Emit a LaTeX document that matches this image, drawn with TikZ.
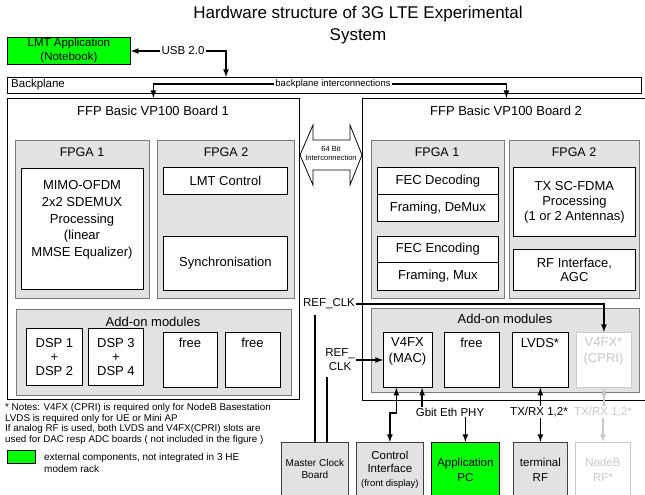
\documentclass[tikz,border=0pt]{standalone}
\usepackage{fontspec}
\setmainfont{Liberation Sans}
\usetikzlibrary{positioning}
\definecolor{panel}{HTML}{E2E2E2}
\definecolor{panelline}{HTML}{7A7A7A}
\definecolor{extgreen}{HTML}{00FF00}
\definecolor{faded}{HTML}{C8C8C8}
\newcommand{\fsz}[2]{\fontsize{#1}{#2}\selectfont}
\tikzset{
  sz/.style 2 args={minimum width=#1pt, minimum height=#2pt, anchor=north west},
  box/.style={draw, fill=white, line width=0.8pt, inner sep=0pt, align=center, font=\fsz{13}{16}},
  panel/.style={draw=panelline, fill=panel, line width=1.2pt, inner sep=0pt, anchor=north west},
  board/.style={draw, line width=0.8pt, inner sep=0pt, anchor=north west},
  lbl/.style={inner sep=1pt, align=center, font=\fsz{11.5}{14}},
  unit/.style={box, fill=panel, draw=black!75, font=\fsz{11.5}{15}},
  ext/.style={box, fill=extgreen, font=\fsz{11.5}{14}},
  off/.style={draw=faded, text=faded},
  link/.style={line width=1.6pt},
  arr/.style={link, ->},
  dblarr/.style={link, <->},
}
\begin{document}
\begin{tikzpicture}[x=1pt, y=-1pt, >=latex]
  \useasboundingbox (0,0) rectangle (645,495);
  \node[lbl, font=\fsz{17}{22}] (title) at (358,25) {Hardware structure of 3G LTE Experimental\\System};
  % external notebook and backplane
  \node[ext, sz={123}{27}] (lmt) at (7,37) {LMT Application\\(Notebook)};
  \node[lbl] (usb) at (183,51) {USB 2.0};
  \node[board, sz={634}{16}] (bp) at (7,77) {};
  \node[lbl, anchor=west] (bptxt) at (10,85) {Backplane};
  \node[lbl, font=\fsz{9.5}{11}] (bpi) at (333,84) {backplane interconnections};
  \coordinate (bpusb) at (226,77);
  \draw[arr] (usb.west) -- (usb.west -| lmt.east);
  \draw[arr] (usb.east) -| (bpusb);
  % the two boards
  \node[board, sz={292}{301}] (b1) at (7,98) {};
  \node[board, sz={288}{302}] (b2) at (362,98) {};
  \draw[arr] (bpi.west) -| (b1.north);
  \draw[arr] (bpi.east) -| (b2.north);
  \node[lbl, font=\fsz{13}{16}] (b1t) at (153,111) {FFP Basic VP100 Board 1};
  \node[lbl, font=\fsz{13}{16}] (b2t) at (506,111) {FFP Basic VP100 Board 2};
  \draw[line width=0.8pt, fill=white] (300,155) -- (313,125) -- (313,140) -- (350,140) -- (350,125)
    -- (362,155) -- (350,185) -- (350,170) -- (313,170) -- (313,185) -- cycle;
  \node[lbl, font=\fsz{7.5}{9}] (ic) at (331,153) {64 Bit\\Interconnection};
  % board 1
  \node[panel, sz={134}{158}] (fpgaA) at (15,140) {};
  \node[lbl, font=\fsz{12.5}{15}] (fpgaAt) at (82,152) {FPGA 1};
  \node[box, sz={122}{121}] (mimo) at (21,168) {};
  \node[lbl, font=\fsz{13}{16.7}] (mimot) at (82,220) {MIMO-OFDM\\2x2 SDEMUX\\Processing\\(linear\\MMSE Equalizer)};
  \node[panel, sz={137}{158}] (fpgaB) at (157,140) {};
  \node[lbl, font=\fsz{12.5}{15}] (fpgaBt) at (226,152) {FPGA 2};
  \node[box, sz={124}{27}] (lmtc) at (163,167) {LMT Control};
  \node[box, sz={124}{54}] (sync) at (163,236) {Synchronisation};
  \node[panel, sz={275}{86}] (addA) at (16,309) {};
  \node[lbl, font=\fsz{13}{16}] (addAt) at (153,322) {Add-on modules};
  \node[box, sz={56}{57}, font=\fsz{13}{14}] (dspA) at (26,328) {DSP 1\\+\\DSP 2};
  \node[box, sz={55}{57}, font=\fsz{13}{14}] (dspB) at (88,328) {DSP 3\\+\\DSP 4};
  \node[box, sz={54}{55}] (freeA) at (163,332) {};
  \node[lbl, font=\fsz{13}{16}] (freeAt) at (190,343) {free};
  \node[box, sz={55}{55}] (freeB) at (225,332) {};
  \node[lbl, font=\fsz{13}{16}] (freeBt) at (252.5,343) {free};
  % board 2
  \node[panel, sz={133}{158}] (fpgaC) at (371,140) {};
  \node[lbl, font=\fsz{12.5}{15}] (fpgaCt) at (437,152) {FPGA 1};
  \node[box, sz={121}{27}] (fecd) at (377,167) {FEC Decoding};
  \node[box, sz={121}{27}] (frmd) at (377,194) {Framing, DeMux};
  \node[box, sz={121}{26}] (fece) at (377,236) {FEC Encoding};
  \node[box, sz={121}{28}] (frme) at (377,262) {Framing, Mux};
  \node[panel, sz={130}{158}] (fpgaD) at (509,140) {};
  \node[lbl, font=\fsz{12.5}{15}] (fpgaDt) at (574,152) {FPGA 2};
  \node[box, sz={122}{69}, font=\fsz{13}{15}] (txsc) at (513,167) {TX SC-FDMA\\Processing\\(1 or 2 Antennas)};
  \node[box, sz={122}{41}, font=\fsz{13}{14}] (rfif) at (513,249) {RF Interface,\\AGC};
  \node[panel, sz={268}{84}] (addB) at (371,308) {};
  \node[lbl, font=\fsz{13}{16}] (addBt) at (505,319) {Add-on modules};
  \node[box, sz={49}{55}] (v4fx) at (383,332) {};
  \node[lbl, font=\fsz{13}{16}] (v4fxt) at (407.5,351) {V4FX\\(MAC)};
  \node[box, sz={55}{55}] (freeC) at (444,332) {};
  \node[lbl, font=\fsz{13}{16}] (freeCt) at (471.5,343) {free};
  \node[box, sz={56}{55}] (lvds) at (512,332) {};
  \node[lbl, font=\fsz{13}{16}] (lvdst) at (540,343) {LVDS*};
  \node[box, off, sz={55}{55}] (cpri) at (576,332) {};
  \node[lbl, text=faded, font=\fsz{13}{16}] (cprit) at (603.5,351) {V4FX*\\(CPRI)};
  % units below the rack
  \node[unit, sz={67}{54}, font=\fsz{10}{12}] (mcb) at (281,442) {Master Clock\\Board};
  \node[unit, sz={67}{54}, font=\fsz{11.5}{13.5}] (ci) at (356,442) {Control\\Interface\\{\fsz{9.5}{11}(front display)}};
  \node[ext, sz={68}{54}, font=\fsz{11.5}{15}] (apc) at (431,442) {Application\\PC};
  \node[unit, sz={54}{54}] (trf) at (513,442) {terminal\\RF};
  \node[unit, off, fill=white, sz={55}{54}] (nodeb) at (575,442) {NodeB\\RF*};
  \node[lbl] (refa) at (329,304) {REF\_CLK};
  \node[lbl] (refb) at (340,360) {REF\_\\CLK};
  \node[lbl] (gbit) at (450,412) {Gbit Eth PHY};
  \node[lbl] (txrx) at (539,412) {TX/RX 1,2*};
  \node[lbl, text=faded] (txrxB) at (603,412) {TX/RX 1,2*};
  \coordinate (clka) at (315,315);
  \coordinate (clkb) at (327,377);
  \coordinate (gb) at ([xshift=7.5]gbit.north west);
  \draw[arr] (refa.east) -| (cpri.north);
  \draw[arr] (refb.east) -- (refb.east -| v4fx.west);
  \draw[link] (clka) -- (clka |- mcb.north);
  \draw[link] (clkb) -- (clkb |- mcb.north);
  \draw[dblarr] ([xshift=-11.5]v4fx.south) -- ++(0,25) -| (ci.north);
  \draw[arr] (gb) -- (gb |- v4fx.south);
  \draw[arr] (gbit.south -| apc.north) -- (apc.north);
  \draw[arr] (txrx.north -| lvds.south) -- (lvds.south);
  \draw[arr] (txrx.south -| trf.north) -- (trf.north);
  \draw[arr, faded] (txrxB.north -| cpri.south) -- (cpri.south);
  \draw[arr, faded] (txrxB.south -| nodeb.north) -- (nodeb.north);
  % notes and legend
  \node[lbl, anchor=north west, align=left, inner sep=0pt, font=\fsz{9.8}{10.7}] (notes) at (5,403)
    {* Notes: V4FX (CPRI) is required only for NodeB Basestation\\
     LVDS is required only for UE or Mini AP\\
     If analog RF is used, both LVDS and V4FX(CPRI) slots are\\
     used for DAC resp ADC boards ( not included in the figure )};
  \node[ext, sz={28}{13}] (leg) at (7,450) {};
  \node[lbl, anchor=west, align=left, font=\fsz{10}{12}] (legt) at (43,463) {external components, not integrated in 3 HE\\modem rack};
\end{tikzpicture}
\end{document}
